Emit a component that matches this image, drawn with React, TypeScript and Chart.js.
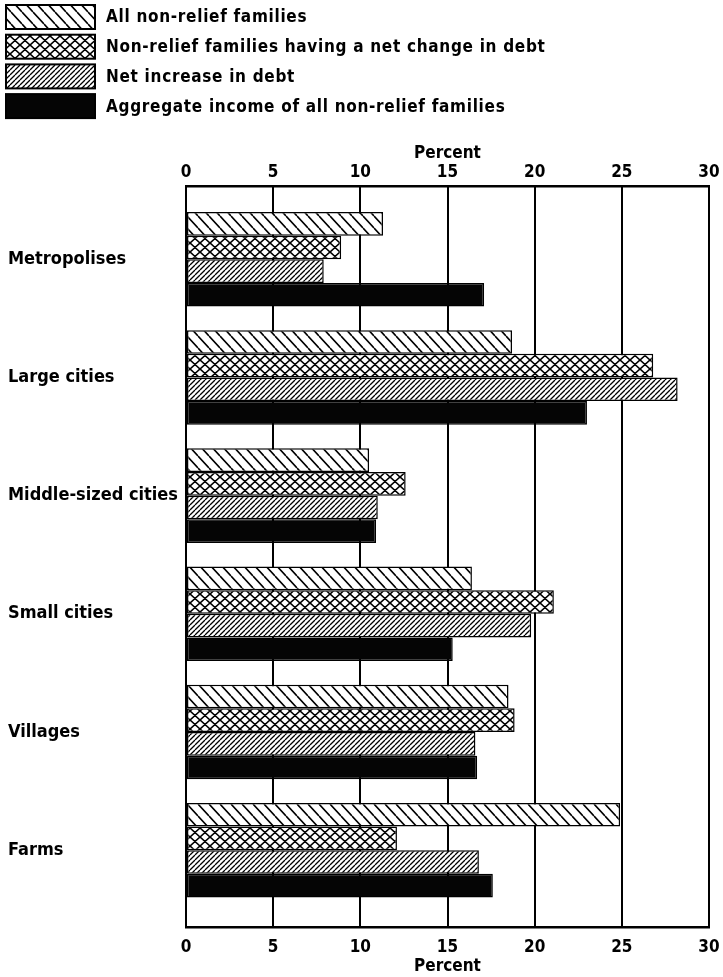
import React, { useEffect, useRef } from "react";
import { Chart, registerables } from "chart.js";

Chart.register(...registerables);

const categories = ["Metropolises", "Large cities", "Middle-sized cities", "Small cities", "Villages", "Farms"];
const seriesLabels = [
  "All non-relief families",
  "Non-relief families having a net change in debt",
  "Net increase in debt",
  "Aggregate income of all non-relief families",
];
const allNonRelief = [11.3, 18.7, 10.5, 16.4, 18.5, 24.9];
const withDebtChange = [8.9, 26.8, 12.6, 21.1, 18.85, 12.1];
const netIncrease = [7.9, 28.2, 11.0, 19.8, 16.6, 16.8];
const aggregateIncome = [17.1, 23.0, 10.9, 15.3, 16.7, 17.6];
const axisTitle = "Percent";
const xMin = 0;
const xMax = 30;
const xStep = 5;

const FONT_FAMILY = "'DejaVu Sans Condensed', 'DejaVu Sans', sans-serif";

type Kind = "back" | "cross" | "fwd";

function makePattern(kind: Kind, w: number, h: number, lw: number): CanvasPattern | string {
  const c = document.createElement("canvas");
  c.width = w;
  c.height = h;
  const g = c.getContext("2d");
  if (!g) return "#fff";
  g.fillStyle = "#fff";
  g.fillRect(0, 0, w, h);
  g.strokeStyle = "#000";
  g.lineWidth = lw;
  g.beginPath();
  if (kind === "back" || kind === "cross") {
    for (const o of [-w, 0, w]) {
      g.moveTo(o, 0);
      g.lineTo(o + w, h);
    }
  }
  if (kind === "fwd" || kind === "cross") {
    for (const o of [-w, 0, w]) {
      g.moveTo(o, h);
      g.lineTo(o + w, 0);
    }
  }
  g.stroke();
  const p = g.createPattern(c, "repeat");
  return p || "#fff";
}

const legendPlugin = {
  id: "stackedLegend",
  afterDraw(chart: any, _args: any, opts: any) {
    const ctx = chart.ctx as CanvasRenderingContext2D;
    const ds = chart.data.datasets;
    ctx.save();
    ds.forEach((d: any, i: number) => {
      const cy = opts.firstY + i * opts.rowGap;
      const x = opts.x;
      ctx.fillStyle = d.backgroundColor;
      ctx.fillRect(x, cy - opts.boxH / 2, opts.boxW, opts.boxH);
      ctx.lineWidth = 2;
      ctx.strokeStyle = "#000";
      ctx.strokeRect(x, cy - opts.boxH / 2, opts.boxW, opts.boxH);
      ctx.fillStyle = "#000";
      ctx.font = opts.font;
      (ctx as any).letterSpacing = opts.letterSpacing;
      ctx.textAlign = "left";
      ctx.textBaseline = "middle";
      ctx.fillText(d.label, x + opts.boxW + opts.gap, cy + 1);
    });
    ctx.restore();
  },
};

export default function App() {
  const ref = useRef<HTMLCanvasElement | null>(null);

  useEffect(() => {
    document.body.style.margin = "0";
    document.body.style.overflow = "hidden";
    const canvas = ref.current;
    if (!canvas) return;

    const fills = [
      makePattern("back", 11, 12, 1.6),
      makePattern("cross", 10, 9, 1.6),
      makePattern("fwd", 5, 5, 1.3),
      "#050505",
    ];
    const series = [allNonRelief, withDebtChange, netIncrease, aggregateIncome];

    const tickFont = { family: FONT_FAMILY, size: 17, weight: "bold" as const };
    const catFont = { family: FONT_FAMILY, size: 18, weight: "bold" as const };

    const chart = new Chart(canvas, {
      type: "bar",
      data: {
        datasets: series.map((vals, si) => ({
          label: seriesLabels[si],
          data: vals.map((v, i) => ({ x: v, y: i })),
          backgroundColor: fills[si] as any,
          borderColor: "#000",
          borderWidth: 1.5,
          borderSkipped: false,
          categoryPercentage: 0.8,
          barPercentage: 1.0,
          xAxisID: "x",
          yAxisID: "y",
        })),
      },
      options: {
        indexAxis: "y",
        responsive: false,
        animation: false,
        layout: { padding: { top: 125, left: 8, right: 14, bottom: 0 } },
        plugins: {
          legend: { display: false },
          tooltip: { enabled: false },
          stackedLegend: {
            x: 6,
            firstY: 17,
            rowGap: 29.7,
            boxW: 89,
            boxH: 24,
            gap: 11,
            font: `bold 17px ${FONT_FAMILY}`,
            letterSpacing: "0.7px",
          },
        } as any,
        scales: {
          x: {
            type: "linear",
            position: "bottom",
            min: xMin,
            max: xMax,
            ticks: { stepSize: xStep, color: "#000", font: tickFont, padding: 10 },
            grid: { color: "#000", lineWidth: 2, drawTicks: false },
            border: { color: "#000", width: 2.5 },
            title: { display: true, text: axisTitle, color: "#000", font: tickFont, padding: 0 },
            afterFit: (s: any) => {
              s.height = 50;
              s.paddingLeft = 0;
              s.paddingRight = 0;
            },
          },
          x2: {
            type: "linear",
            position: "top",
            min: xMin,
            max: xMax,
            ticks: { stepSize: xStep, color: "#000", font: tickFont, padding: 3 },
            grid: { display: false, drawTicks: false },
            border: { color: "#000", width: 2.5 },
            title: { display: true, text: axisTitle, color: "#000", font: tickFont, padding: { top: 18, bottom: 0 } },
            afterFit: (s: any) => {
              s.height = 61;
              s.paddingLeft = 0;
              s.paddingRight = 0;
            },
          },
          y: {
            type: "linear",
            reverse: true,
            offset: false,
            min: -0.62,
            max: 5.65,
            afterBuildTicks: (s: any) => {
              s.ticks = categories.map((_, i) => ({ value: i }));
            },
            ticks: {
              autoSkip: false,
              color: "#000",
              font: catFont,
              crossAlign: "far",
              callback: (v: any) => categories[Math.round(Number(v))] ?? "",
            },
            grid: { display: false, drawTicks: false },
            border: { display: false },
            afterFit: (s: any) => {
              s.width = 178;
            },
          },
        },
      } as any,
      plugins: [legendPlugin as any],
    });

    return () => {
      chart.destroy();
    };
  }, []);

  return (
    <div style={{ width: 723, height: 977, background: "#fff" }}>
      <canvas ref={ref} width={723} height={977} style={{ display: "block" }} />
    </div>
  );
}
